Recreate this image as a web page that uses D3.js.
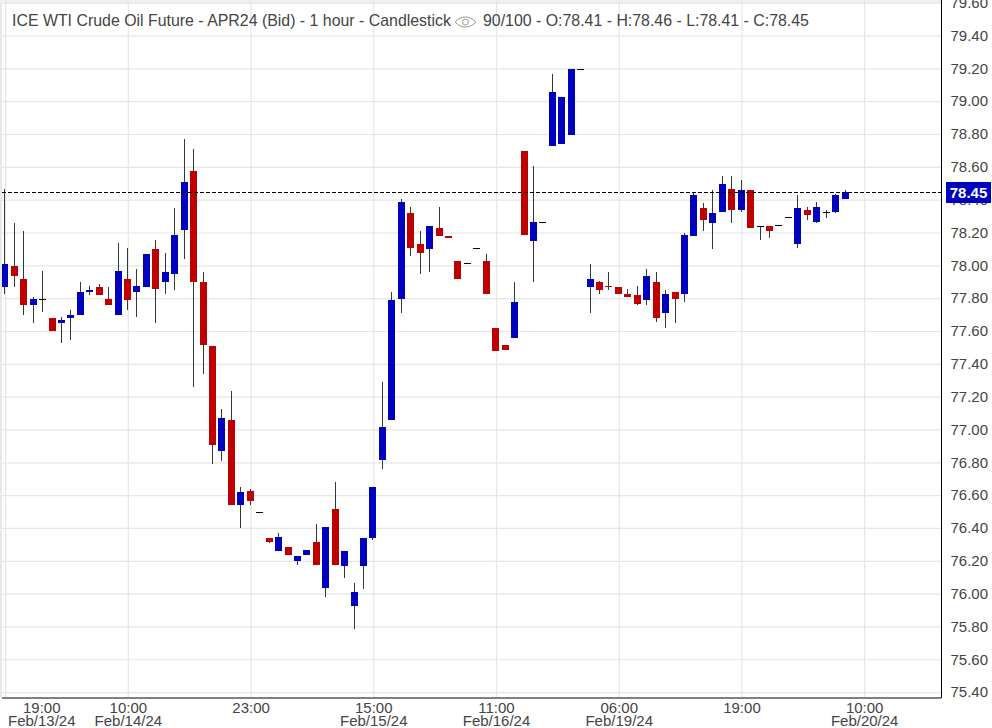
<!DOCTYPE html>
<html>
<head>
<meta charset="utf-8">
<script src="https://cdn.jsdelivr.net/npm/d3@7"></script>
<style>
  html, body { margin: 0; padding: 0; background: #fff; }
  svg { display: block; font-family: "Liberation Sans", Arial, sans-serif; }
</style>
</head>
<body>
<div id="chart"></div>
<script>
// Chart values
const opens = [77.87,78.00,77.92,77.76,77.80,77.68,77.65,77.68,77.70,77.84,77.87,77.80,77.70,77.92,77.84,77.87,78.10,77.90,77.95,78.22,
  78.58,77.90,77.51,76.87,77.06,76.54,76.63,76.50,76.34,76.26,76.29,76.20,76.24,76.32,76.04,76.52,76.17,75.93,76.17,76.34,
  76.82,77.06,77.80,78.32,78.13,78.10,78.23,78.18,78.03,78.02,78.11,78.03,77.62,77.52,77.56,78.70,78.15,78.27,78.73,78.74,
  78.80,79.20,77.87,77.90,77.88,77.87,77.83,77.82,77.79,77.90,77.71,77.84,77.83,78.18,78.35,78.26,78.33,78.47,78.34,78.46,
  78.24,78.24,78.25,78.30,78.13,78.34,78.27,78.33,78.33,78.41];
const highs = [78.47,78.26,78.21,77.81,77.97,77.68,77.69,77.73,77.90,77.88,77.89,77.87,78.14,78.11,77.98,78.07,78.16,78.08,78.35,78.77,
  78.71,77.96,77.51,77.13,77.24,76.65,76.64,76.50,76.34,76.37,76.29,76.23,76.27,76.43,76.41,76.68,76.26,76.07,76.34,76.65,
  77.29,77.84,78.41,78.36,78.21,78.24,78.36,78.18,78.03,78.02,78.11,78.07,77.62,77.52,77.90,78.70,78.61,78.27,79.17,79.03,
  79.20,79.20,78.01,77.91,77.96,77.87,77.86,77.88,77.98,77.96,77.85,77.84,78.20,78.45,78.38,78.46,78.55,78.55,78.52,78.46,
  78.24,78.24,78.25,78.30,78.43,78.36,78.39,78.34,78.44,78.46];
const lows = [77.83,77.87,77.70,77.65,77.72,77.60,77.53,77.55,77.70,77.82,77.82,77.76,77.70,77.73,77.69,77.87,77.65,77.83,77.85,78.04,
  77.26,77.34,76.79,76.81,76.54,76.40,76.54,76.50,76.31,76.26,76.24,76.18,76.24,76.18,75.98,76.18,76.10,75.79,76.03,76.33,
  76.76,77.06,77.71,78.06,77.95,77.96,78.18,78.17,77.92,78.02,78.11,77.83,77.48,77.49,77.56,78.19,77.90,78.27,78.73,78.74,
  78.80,79.20,77.71,77.83,77.85,77.83,77.81,77.76,77.76,77.66,77.62,77.65,77.78,78.18,78.21,78.10,78.33,78.26,78.33,78.23,
  78.16,78.17,78.25,78.30,78.11,78.28,78.26,78.29,78.32,78.41];
const closes = [78.01,77.94,77.76,77.80,77.80,77.60,77.67,77.70,77.84,77.85,77.82,77.76,77.97,77.79,77.88,78.07,77.86,77.96,78.19,78.51,
  77.90,77.52,76.91,77.07,76.54,76.62,76.57,76.50,76.32,76.35,76.24,76.23,76.27,76.18,76.41,76.18,76.26,76.01,76.34,76.65,
  77.02,77.79,78.39,78.11,78.08,78.24,78.18,78.17,77.92,78.02,78.11,77.83,77.48,77.49,77.78,78.19,78.27,78.27,79.06,79.03,
  79.20,79.20,77.92,77.85,77.87,77.83,77.81,77.77,77.94,77.68,77.83,77.80,78.19,78.43,78.28,78.32,78.50,78.34,78.46,78.23,
  78.24,78.21,78.25,78.30,78.35,78.31,78.36,78.33,78.43,78.45];

const priceTicks = [75.4,75.6,75.8,76.0,76.2,76.4,76.6,76.8,77.0,77.2,77.4,77.6,77.8,78.0,78.2,78.4,78.6,78.8,79.0,79.2,79.4,79.6];
const timeTickIndex = [0,13,26,39,52,65,78,91];
const timeLabels = ["19:00","10:00","23:00","15:00","11:00","06:00","19:00","10:00"];
const dateLabels = ["Feb/13/24","Feb/14/24","","Feb/15/24","Feb/16/24","Feb/19/24","","Feb/20/24"];
const lastPrice = 78.45;
const titleText = "ICE WTI Crude Oil Future - APR24 (Bid) - 1 hour - Candlestick";
const infoText = "90/100 - O:78.41 - H:78.46 - L:78.41 - C:78.45";

const width = 992;
const height = 728;
const plot = { left: 2, right: 941, bottom: 697 };
const upColor = "#0000bf";
const downColor = "#bf0000";
const wickColor = "#2f3a3a";
const gridColor = "#e6e6e6";

const svg = d3.select("#chart")
  .append("svg")
  .attr("width", width)
  .attr("height", height);

// Scales
const x = d3.scaleLinear().domain([0, 89]).range([4.8, 845]);
const y = d3.scaleLinear().domain([75.4, 79.6]).range([692.6, 3.2]);

svg.append("defs").append("clipPath").attr("id", "plotClip")
  .append("rect")
  .attr("x", plot.left)
  .attr("y", 0)
  .attr("width", plot.right - plot.left)
  .attr("height", plot.bottom);

// Left edge and top strip
svg.append("rect").attr("x", 0).attr("y", 0).attr("width", plot.left).attr("height", plot.bottom + 1).attr("fill", "#e8e8e8");
svg.append("rect").attr("x", 0).attr("y", 0).attr("width", plot.right).attr("height", 3).attr("fill", "#f0f0f0");

// Grid, drawn with the axes themselves
const gridY = svg.append("g")
  .attr("transform", `translate(${plot.left},0)`)
  .call(d3.axisRight(y).tickValues(priceTicks).tickSize(plot.right - plot.left).tickFormat("").offset(0));
gridY.select(".domain").remove();
gridY.selectAll("line").attr("stroke", gridColor).attr("stroke-width", 1.2);

const gridX = svg.append("g")
  .attr("transform", `translate(0,${plot.bottom})`)
  .call(d3.axisTop(x).tickValues(timeTickIndex).tickSize(plot.bottom).tickFormat("").offset(0.8));
gridX.select(".domain").remove();
gridX.selectAll("line").attr("stroke", gridColor).attr("stroke-width", 1.2);

// Candles
const candles = svg.append("g").attr("clip-path", "url(#plotClip)")
  .selectAll("g")
  .data(opens.map((o, i) => ({ i, o, h: highs[i], l: lows[i], c: closes[i] })))
  .join("g");

candles.append("rect")
  .attr("x", d => Math.floor(x(d.i)))
  .attr("width", 1)
  .attr("y", d => Math.round(y(d.h)))
  .attr("height", d => Math.round(y(d.l)) - Math.round(y(d.h)))
  .attr("fill", wickColor);

candles.append("rect")
  .attr("x", d => Math.floor(x(d.i)) - 3)
  .attr("width", 7)
  .attr("y", d => Math.round(y(Math.max(d.o, d.c))))
  .attr("height", d => d.o === d.c ? 1 : Math.round(y(Math.min(d.o, d.c))) - Math.round(y(Math.max(d.o, d.c))))
  .attr("fill", d => d.o === d.c ? "#000" : d.c > d.o ? upColor : downColor);

// Last price line
svg.append("line")
  .attr("x1", plot.left).attr("x2", plot.right)
  .attr("y1", Math.round(y(lastPrice)) + 0.5).attr("y2", Math.round(y(lastPrice)) + 0.5)
  .attr("stroke", "#000")
  .attr("stroke-dasharray", "4,2");

// Price axis on the right
const yAxis = svg.append("g")
  .attr("transform", `translate(${plot.right},0)`)
  .call(d3.axisRight(y).tickValues(priceTicks).tickSize(0).tickPadding(9.5).tickFormat(d3.format(".2f")).offset(0));
yAxis.select(".domain").remove();
yAxis.selectAll("text")
  .attr("font-family", "'Liberation Sans', Arial, sans-serif")
  .attr("font-size", 15)
  .attr("fill", "#444");

svg.append("line")
  .attr("x1", plot.right + 0.5).attr("x2", plot.right + 0.5)
  .attr("y1", 0).attr("y2", plot.bottom + 1)
  .attr("stroke", "#000");

// Time axis at the bottom
const xAxis = svg.append("g")
  .attr("transform", `translate(0,${plot.bottom})`)
  .call(d3.axisBottom(x).tickValues(timeTickIndex).tickSize(0).tickFormat("").offset(0.8));
xAxis.select(".domain").remove();
xAxis.selectAll(".tick text").each(function(d, i) {
  const label = d3.select(this)
    .attr("font-family", "'Liberation Sans', Arial, sans-serif")
    .attr("font-size", 15)
    .attr("fill", "#444")
    .attr("text-anchor", "middle")
    .attr("y", 0)
    .attr("dy", null);
  // first tick label is pushed inward so that the date fits
  const shift = Math.max(41 - x(d), 0);
  label.append("tspan").attr("x", shift).attr("y", 15.5).text(timeLabels[i]);
  if (dateLabels[i]) label.append("tspan").attr("x", shift).attr("y", 29).text(dateLabels[i]);
});

svg.append("rect")
  .attr("x", plot.left).attr("y", plot.bottom)
  .attr("width", plot.right - plot.left).attr("height", 2)
  .attr("fill", "#808080");

// Last price tag
const tag = svg.append("g").attr("transform", `translate(946,${Math.round(y(lastPrice))})`);
tag.append("rect").attr("x", 0).attr("y", -10).attr("width", 45).attr("height", 21).attr("fill", upColor);
tag.append("text")
  .attr("x", 22.5).attr("y", 6)
  .attr("text-anchor", "middle")
  .attr("font-size", 15).attr("font-weight", "bold")
  .attr("fill", "#fff")
  .text(d3.format(".2f")(lastPrice));

// Title row
svg.append("text")
  .attr("x", 12).attr("y", 25.5)
  .attr("font-size", 15.9).attr("fill", "#444")
  .text(titleText);

const eye = svg.append("g").attr("transform", "translate(465.5,22)").attr("fill", "none").attr("stroke", "#999");
eye.append("path").attr("d", d3.line().curve(d3.curveCatmullRomClosed)([[-10,0],[-5,-4],[0,-5],[5,-4],[10,0],[5,4],[0,5],[-5,4]]));
eye.append("circle").attr("r", 3);

svg.append("text")
  .attr("x", 483).attr("y", 25.5)
  .attr("font-size", 15.9).attr("fill", "#444")
  .text(infoText);
</script>
</body>
</html>
